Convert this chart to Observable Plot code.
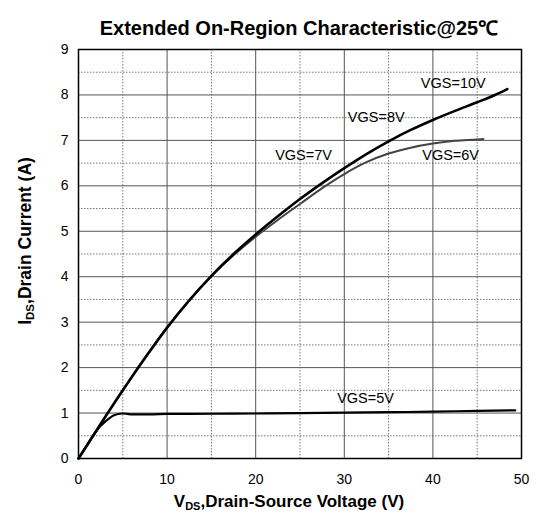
<!DOCTYPE html>
<html><head><meta charset="utf-8">
<script src="https://cdn.jsdelivr.net/npm/d3@7"></script>
<script src="https://cdn.jsdelivr.net/npm/@observablehq/plot@0.6"></script>
<style>body{margin:0;background:#fff}</style>
</head><body><div id="chart"></div>
<script>
const titleText = "Extended On-Region Characteristic@25\u2103";
const xTicks = [0, 10, 20, 30, 40, 50];
const yTicks = [0, 1, 2, 3, 4, 5, 6, 7, 8, 9];
const xMajor = [10, 20, 30, 40];
const xMinor = [5, 15, 25, 35, 45];
const yMajor = [1, 2, 3, 4, 5, 6, 7, 8];
const yMinor = [0.5, 1.5, 2.5, 3.5, 4.5, 5.5, 6.5, 7.5, 8.5];

// VGS=10V / 8V (overlapping, black)
const hiVds = [0, 2.5, 5, 7.5, 10, 12.5, 15, 17.5, 20, 22.5, 25, 27.5, 30, 32.5, 35, 37.5, 40, 42.5, 45, 47, 48.4];
const hiId  = [0, 0.76, 1.5, 2.21, 2.88, 3.48, 4.02, 4.5, 4.93, 5.33, 5.71, 6.06, 6.39, 6.7, 6.98, 7.23, 7.45, 7.65, 7.84, 8.0, 8.13];
// VGS=7V / 6V (overlapping, gray)
const midVds = [0, 2.5, 5, 7.5, 10, 12.5, 15, 17.5, 20, 22.5, 25, 27.5, 30, 32.5, 35, 37.5, 40, 42.5, 45, 45.7];
const midId  = [0, 0.76, 1.5, 2.21, 2.88, 3.48, 4.01, 4.47, 4.88, 5.25, 5.6, 5.95, 6.26, 6.52, 6.71, 6.84, 6.93, 6.99, 7.02, 7.03];
// VGS=5V
const lowVds = [0, 1, 2, 2.5, 3, 3.5, 4, 4.5, 5, 5.5, 6, 7, 8, 10, 15, 20, 25, 30, 35, 40, 45, 49.3];
const lowId  = [0, 0.3, 0.6, 0.72, 0.81, 0.89, 0.95, 0.98, 0.99, 0.98, 0.97, 0.97, 0.97, 0.98, 0.985, 0.99, 1.0, 1.01, 1.02, 1.03, 1.05, 1.06];

const labelText = ["VGS=10V", "VGS=8V", "VGS=7V", "VGS=6V", "VGS=5V"];
const labelVds  = [42.3, 33.6, 25.4, 42.0, 32.4];
const labelId   = [8.25, 7.5, 6.67, 6.67, 1.32];

const toPts = (xs, ys) => xs.map((x, i) => ({x, y: ys[i]}));
const labels = labelText.map((t, i) => ({t, x: labelVds[i], y: labelId[i]}));

const font = "'Liberation Sans', Arial, Helvetica, sans-serif";

const plot = Plot.plot({
  width: 535,
  height: 515,
  marginLeft: 78,
  marginRight: 14,
  marginTop: 49,
  marginBottom: 57,
  style: {fontFamily: font, fontSize: "14px", color: "#000", background: "#fff"},
  x: {domain: [0, 50], ticks: xTicks, tickSize: 0, tickPadding: 16, label: null},
  y: {domain: [0, 9], ticks: yTicks, tickSize: 0, tickPadding: 10, label: null},
  marks: [
    Plot.ruleX(xMinor, {stroke: "#777", strokeWidth: 1, strokeDasharray: "1.5,1.5"}),
    Plot.ruleY(yMinor, {stroke: "#777", strokeWidth: 1, strokeDasharray: "1.5,1.5"}),
    Plot.ruleX(xMajor, {stroke: "#555", strokeWidth: 1}),
    Plot.ruleY(yMajor, {stroke: "#555", strokeWidth: 1}),
    Plot.frame({stroke: "#000", strokeWidth: 1.5}),
    Plot.line(toPts(lowVds, lowId), {x: "x", y: "y", stroke: "#000", strokeWidth: 2.2, curve: "monotone-x"}),
    Plot.line(toPts(midVds, midId), {x: "x", y: "y", stroke: "#444", strokeWidth: 2, curve: "monotone-x"}),
    Plot.line(toPts(hiVds, hiId), {x: "x", y: "y", stroke: "#000", strokeWidth: 2.6, curve: "monotone-x"}),
    Plot.text(labels, {x: "x", y: "y", text: "t", fontSize: 14.5, fill: "#000", textAnchor: "middle", lineAnchor: "middle"}),
    Plot.text([titleText], {frameAnchor: "top", text: d => d, dy: -29, dx: -1, fontSize: 20, fontWeight: "bold", fill: "#000"})
  ]
});

const svg = d3.select(plot);
const xl = svg.append("text")
  .attr("x", 289).attr("y", 507)
  .attr("text-anchor", "middle")
  .style("font-family", font).style("font-weight", "bold").style("font-size", "17px").attr("fill", "#000");
xl.append("tspan").text("V");
xl.append("tspan").attr("font-size", "11px").attr("dy", "3").text("DS");
xl.append("tspan").attr("dy", "-3").text(",Drain-Source Voltage (V)");

const yl = svg.append("text")
  .attr("transform", "translate(31,241) rotate(-90)")
  .attr("text-anchor", "middle")
  .style("font-family", font).style("font-weight", "bold").style("font-size", "17.5px").attr("fill", "#000");
yl.append("tspan").text("I");
yl.append("tspan").attr("font-size", "11.5px").attr("dy", "3").text("DS");
yl.append("tspan").attr("dy", "-3").text(",Drain Current (A)");

document.getElementById("chart").appendChild(plot);
</script>
</body></html>
